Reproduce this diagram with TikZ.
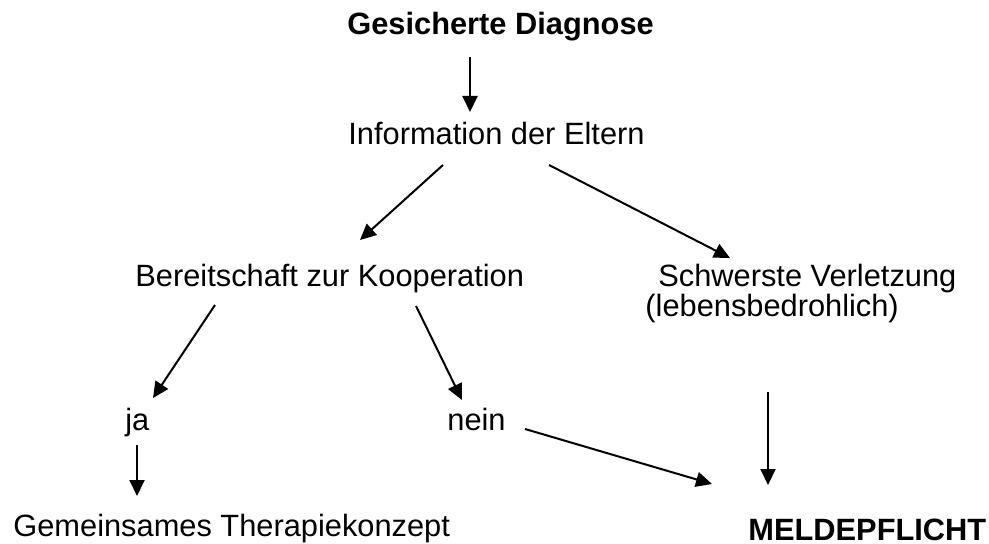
\documentclass[tikz,border=0pt]{standalone}
\usepackage{fontspec}
\setmainfont{Liberation Sans}
\usetikzlibrary{arrows.meta}
\begin{document}
\begin{tikzpicture}[x=0.5pt,y=-0.5pt,
  lbl/.style={anchor=base west,inner sep=0pt,font=\fontsize{15.4}{18}\selectfont},
  blbl/.style={lbl,font=\fontsize{15.4}{18}\selectfont\bfseries},
  arr/.style={line width=1pt,-{Triangle[length=8pt,width=7.5pt]}}]
\useasboundingbox (0,0) rectangle (989,544);
\node[blbl] (gd) at (347,35) {Gesicherte Diagnose};
\node[lbl] (info) at (348,145) {Information der Eltern};
\node[lbl] (bereit) at (135,287) {Bereitschaft zur Kooperation};
\node[lbl] (schwer) at (658,287) {Schwerste Verletzung};
\node[lbl] (lebens) at (645,317) {(lebensbedrohlich)};
\node[lbl] (ja) at (125,430) {ja};
\node[lbl] (nein) at (447,430) {nein};
\node[lbl] (gem) at (13,536) {Gemeinsames Therapiekonzept};
\node[blbl] (melde) at (748,540) {MELDEPFLICHT};
\draw[arr] ([shift={(123,22)}]gd.base west) -- ([shift={(122,-33)}]info.base west);
\draw[arr] ([shift={(95,20)}]info.base west) -- ([shift={(225,-47)}]bereit.base west);
\draw[arr] ([shift={(201,20)}]info.base west) -- ([shift={(72,-29)}]schwer.base west);
\draw[arr] ([shift={(80,18)}]bereit.base west) -- ([shift={(28,-32)}]ja.base west);
\draw[arr] ([shift={(281,19)}]bereit.base west) -- ([shift={(15,-30)}]nein.base west);
\draw[arr] ([shift={(12,15)}]ja.base west) -- ([shift={(124,-40)}]gem.base west);
\draw[arr] ([shift={(78,-1)}]nein.base west) -- ([shift={(-36,-56)}]melde.base west);
\draw[arr] ([shift={(123,75)}]lebens.base west) -- ([shift={(20,-55)}]melde.base west);
\end{tikzpicture}
\end{document}
